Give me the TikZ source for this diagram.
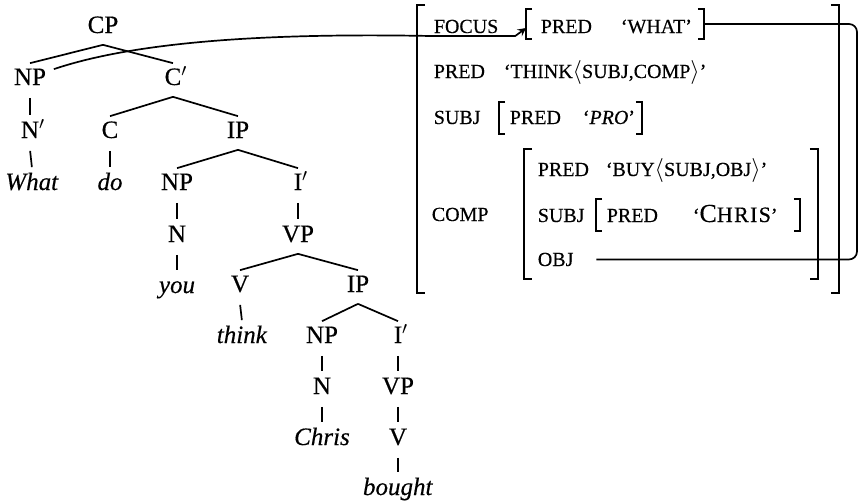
\documentclass[tikz,border=0pt]{standalone}
\usepackage{fontspec}
\setmainfont{Liberation Serif}[FakeBold=0.4]
\newcommand\ang[1]{{\fontsize{11.5}{12}\selectfont$#1$}}
\newcommand\pr{\rlap{$'$}}
% 方括号: #1 = 节点, #2 = 短边长度
\newcommand\brk[2]{%
  \draw[avm] ([xshift=#2]#1.north west) -| (#1.south west) -- ++(#2,0);
  \draw[avm] ([xshift=-#2]#1.north east) -| (#1.south east) -- ++(-#2,0);}

\begin{document}
\begin{tikzpicture}[x=0.5pt, y=-0.5pt, >=stealth, line width=0.85pt,
  tn/.style={inner sep=0pt, text height=7.5pt, text depth=2.5pt, minimum height=16pt, font=\fontsize{12.5}{14}\selectfont},
  fs/.style={anchor=base west, inner sep=0pt, font=\fontsize{10}{11}\selectfont},
  avmbox/.style={inner sep=0pt, minimum width=#1},
  avm/.style={line width=1.1pt}]
  \useasboundingbox (0,0) rectangle (861,503);

  % 1. 句法树
  \node[tn] (cp) at (103,28) {CP};
  \node[tn] (np1) at (30,80) {NP};
  \node[tn] (cbar) at (173,80) {C\pr};
  \node[tn] (nbar) at (30,133) {N\pr};
  \node[tn] (c) at (110,133) {C};
  \node[tn] (ip1) at (238,133) {IP};
  \node[tn] (what) at (32,185) {\textit{What}};
  \node[tn] (do) at (110,185) {\textit{do}};
  \node[tn] (np2) at (177,185) {NP};
  \node[tn] (ibar1) at (298,185) {I\pr};
  \node[tn] (n1) at (177,237) {N};
  \node[tn] (vp1) at (298,237) {VP};
  \node[tn] (you) at (177,288) {\textit{you}};
  \node[tn] (v1) at (240,287) {V};
  \node[tn] (ip2) at (358,287) {IP};
  \node[tn] (think) at (242,338) {\textit{think}};
  \node[tn] (np3) at (322,338) {NP};
  \node[tn] (ibar2) at (398,338) {I\pr};
  \node[tn] (n2) at (322,389) {N};
  \node[tn] (vp2) at (398,389) {VP};
  \node[tn] (chris) at (322,440) {\textit{Chris}};
  \node[tn] (v2) at (398,440) {V};
  \node[tn] (bought) at (398,490) {\textit{bought}};

  \foreach \a/\b in {cp/np1, cp/cbar, cbar/c, cbar/ip1, ip1/np2, ip1/ibar1,
                     vp1/v1, vp1/ip2, ip2/np3, ip2/ibar2}
    \draw (\a.south) -- (\b.north);
  \foreach \a/\b in {np1/nbar, nbar/what, c/do, np2/n1, n1/you, ibar1/vp1,
                     v1/think, np3/n2, n2/chris, ibar2/vp2, vp2/v2, v2/bought}
    \draw[shorten >=0.5pt, shorten <=0.5pt] (\a.south) -- (\b.north);

  % 2. 属性值矩阵
  \node[avmbox=210pt, minimum height=143pt] (outer) at (628,149) {};
  \node[avmbox=146pt, minimum height=64pt] (comp) at (671,214) {};
  \node[avmbox=88pt, minimum height=14.5pt] (fval) at (615,24) {};
  \node[avmbox=70.5pt, minimum height=15pt] (sval) at (570.5,118) {};
  \node[avmbox=101pt, minimum height=15.5pt] (cval) at (698,215) {};
  \brk{outer}{4pt} \brk{comp}{4pt} \brk{fval}{3pt} \brk{sval}{3pt} \brk{cval}{3pt}

  \node[fs] (focus) at (433,33) {FOCUS};
  \node[fs] (fpred) at (540,33) {PRED};
  \node[fs] (fwhat) at (620,33) {`WHAT'};
  \node[fs] (pred) at (433,78) {PRED};
  \node[fs] (predv) at (503,78) {`THINK\ang{\langle}SUBJ,COMP\ang{\rangle}'};
  \node[fs] (subj) at (433,124) {SUBJ};
  \node[fs] (spred) at (509,124) {PRED};
  \node[fs] (spro) at (582,124) {`\textit{PRO}'};
  \node[fs] (complab) at (431,221) {COMP};
  \node[fs] (ipred) at (537,176) {PRED};
  \node[fs] (ipredv) at (605,176) {`BUY\ang{\langle}SUBJ,OBJ\ang{\rangle}'};
  \node[fs] (isubj) at (537,222) {SUBJ};
  \node[fs] (cpred) at (606,222) {PRED};
  \node[fs] (cchris) at (692,222) {\addfontfeature{LetterSpace=6}`{\fontsize{13}{13}\selectfont C}{\fontsize{11}{11}\selectfont HRIS}'};
  \node[fs] (iobj) at (537,266) {OBJ};
  \coordinate (loop) at (857,140);

  % 3. 连线
  \draw[->] ([xshift=3.5pt,yshift=-3pt]np1.north east) .. controls (140,40) and (280,33) ..
    ([yshift=-1pt]focus.south west) -- ([xshift=8pt,yshift=-1pt]focus.south east) -- ([yshift=-2pt]fval.west);
  \draw[rounded corners=4pt] (fval.east) -| (loop) |- ([xshift=11pt]iobj.east);
\end{tikzpicture}
\end{document}
